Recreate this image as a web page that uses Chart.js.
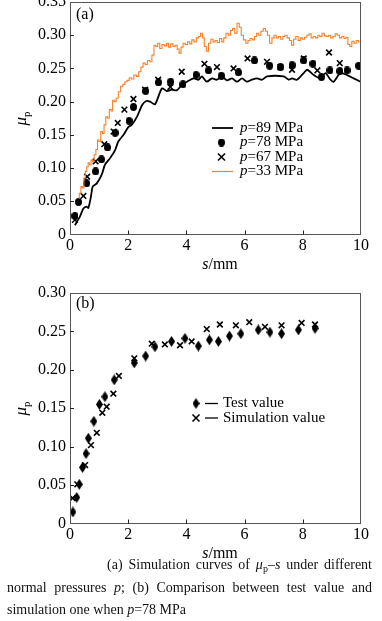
<!DOCTYPE html>
<html>
<head>
<meta charset="utf-8">
<script src="https://cdn.jsdelivr.net/npm/chart.js@4.4.1/dist/chart.umd.min.js"></script>
<style>
    body { margin: 0; background: #fff; width: 382px; height: 621px; position: relative; overflow: hidden; font-family: "Liberation Serif", "Times New Roman", serif; }
    canvas { position: absolute; left: 0; }
    #chartA { top: 0; }
    #chartB { top: 282px; }
    #caption { position: absolute; left: 7px; top: 554px; width: 365px; font-size: 14px; line-height: 22.5px; text-align: justify; text-indent: 100px; color: #111; }
    #caption sub { font-size: 10px; line-height: 0; vertical-align: -3px; }
</style>
</head>
<body>
<canvas id="chartA" width="382" height="275"></canvas>
<canvas id="chartB" width="382" height="278"></canvas>
<div id="caption">(a) Simulation curves of <i>μ</i><sub>p</sub>–<i>s</i> under different normal pressures <i>p</i>; (b) Comparison between test value and simulation one when <i>p</i>=78 MPa</div>
<script>
// (a) mu_p - s for several normal pressures
const s89 = [0.17, 0.34, 0.46, 0.57, 0.63, 0.72, 0.78, 0.92, 1.09, 1.20, 1.38, 1.55, 1.66, 1.84, 2.01, 2.12, 2.30, 2.48, 2.62, 2.75, 2.92, 3.16, 3.33, 3.50, 3.67, 3.84, 4.02, 4.25, 4.42, 4.53, 4.70, 4.88, 5.05, 5.22, 5.39, 5.57, 5.74, 5.91, 6.08, 6.25, 6.43, 6.60, 6.77, 7.34, 7.52, 7.63, 7.80, 8.03, 8.15, 8.38, 8.61, 8.78, 8.95, 9.06, 9.29, 9.52, 9.75, 9.98];
const mu89 = [0.014, 0.027, 0.039, 0.042, 0.040, 0.057, 0.072, 0.077, 0.090, 0.105, 0.115, 0.127, 0.140, 0.150, 0.162, 0.165, 0.177, 0.195, 0.201, 0.200, 0.196, 0.220, 0.216, 0.218, 0.217, 0.225, 0.230, 0.235, 0.233, 0.238, 0.230, 0.235, 0.233, 0.238, 0.232, 0.235, 0.230, 0.235, 0.230, 0.233, 0.235, 0.233, 0.238, 0.238, 0.233, 0.235, 0.233, 0.243, 0.248, 0.240, 0.235, 0.243, 0.233, 0.230, 0.243, 0.240, 0.235, 0.230];

const s78 = [0.17, 0.29, 0.57, 0.88, 1.08, 1.29, 1.55, 2.03, 2.18, 2.60, 3.04, 3.46, 3.88, 4.33, 4.76, 5.20, 5.79, 6.34, 6.86, 7.23, 7.63, 8.03, 8.35, 8.64, 8.93, 9.27, 9.52, 9.92];
const mu78 = [0.028, 0.049, 0.077, 0.095, 0.113, 0.131, 0.153, 0.171, 0.192, 0.216, 0.229, 0.230, 0.226, 0.240, 0.247, 0.239, 0.244, 0.262, 0.254, 0.252, 0.255, 0.262, 0.257, 0.237, 0.247, 0.246, 0.247, 0.254];

const s67 = [0.17, 0.46, 0.59, 0.88, 1.18, 1.50, 1.64, 1.87, 2.18, 2.58, 3.03, 3.45, 3.84, 4.62, 5.05, 5.62, 6.10, 6.77, 7.23, 7.63, 8.03, 8.50, 8.90, 9.27];
const mu67 = [0.022, 0.058, 0.087, 0.110, 0.136, 0.155, 0.168, 0.188, 0.204, 0.218, 0.233, 0.222, 0.245, 0.257, 0.252, 0.250, 0.265, 0.260, 0.252, 0.248, 0.265, 0.247, 0.274, 0.258];

const s33 = [0.29, 0.35, 0.40, 0.45, 0.50, 0.55, 0.60, 0.65, 0.70, 0.75,
    0.80, 0.86, 0.92, 0.97, 1.02, 1.09, 1.14, 1.20, 1.26, 1.32,
    1.38, 1.44, 1.49, 1.55, 1.62, 1.70, 1.78, 1.85, 1.92, 2.00,
    2.07, 2.15, 2.24, 2.32, 2.40, 2.47, 2.55, 2.62, 2.70, 2.78,
    2.85, 2.92, 2.98, 3.05, 3.12, 3.20, 3.28, 3.35, 3.42, 3.50,
    3.58, 3.65, 3.72, 3.78, 3.85, 3.92, 4.00, 4.08, 4.15, 4.22,
    4.30, 4.38, 4.45, 4.52, 4.58, 4.65, 4.72, 4.80, 4.88, 4.95,
    5.02, 5.10, 5.18, 5.25, 5.32, 5.40, 5.48, 5.55, 5.62, 5.70,
    5.78, 5.85, 5.92, 6.00, 6.08, 6.15, 6.22, 6.30, 6.38, 6.45,
    6.52, 6.60, 6.68, 6.75, 6.82, 6.90, 6.98, 7.05, 7.12, 7.20,
    7.28, 7.35, 7.42, 7.50, 7.58, 7.65, 7.72, 7.80, 7.88, 7.95,
    8.02, 8.10, 8.18, 8.25, 8.32, 8.40, 8.48, 8.55, 8.62, 8.70,
    8.78, 8.85, 8.92, 9.00, 9.08, 9.15, 9.22, 9.30, 9.38, 9.45,
    9.52, 9.58, 9.65, 9.72, 9.80, 9.88, 9.95];
const mu33 = [0.055, 0.062, 0.072, 0.070, 0.085, 0.095, 0.102, 0.108, 0.105, 0.112,
    0.110, 0.120, 0.128, 0.142, 0.140, 0.155, 0.152, 0.165, 0.177, 0.175,
    0.188, 0.186, 0.202, 0.200, 0.205, 0.215, 0.223, 0.226, 0.230, 0.232,
    0.236, 0.234, 0.240, 0.238, 0.245, 0.252, 0.258, 0.256, 0.262, 0.260,
    0.270, 0.285, 0.283, 0.288, 0.280, 0.286, 0.284, 0.288, 0.282, 0.287,
    0.283, 0.285, 0.279, 0.273, 0.282, 0.288, 0.286, 0.290, 0.287, 0.293,
    0.290, 0.296, 0.298, 0.303, 0.296, 0.283, 0.276, 0.288, 0.294, 0.290,
    0.292, 0.289, 0.295, 0.290, 0.296, 0.303, 0.300, 0.307, 0.310, 0.303,
    0.318, 0.312, 0.300, 0.293, 0.288, 0.292, 0.295, 0.293, 0.298, 0.303,
    0.300, 0.306, 0.310, 0.306, 0.300, 0.288, 0.296, 0.300, 0.296, 0.298,
    0.294, 0.298, 0.300, 0.296, 0.292, 0.285, 0.294, 0.298, 0.292, 0.296,
    0.294, 0.297, 0.300, 0.302, 0.296, 0.298, 0.296, 0.300, 0.298, 0.303,
    0.299, 0.298, 0.300, 0.296, 0.298, 0.302, 0.300, 0.296, 0.298, 0.295,
    0.297, 0.286, 0.283, 0.291, 0.288, 0.292, 0.290];

// (b) test vs simulation at p=78 MPa
const sTest = [0.10, 0.23, 0.32, 0.43, 0.55, 0.63, 0.82, 1.01, 1.20, 1.52, 2.21, 2.60, 2.92, 3.49, 3.95, 4.41, 4.79, 5.10, 5.48, 5.87, 6.47, 6.87, 7.27, 7.85, 8.42];
const muTest = [0.015, 0.034, 0.051, 0.073, 0.091, 0.111, 0.133, 0.155, 0.165, 0.187, 0.209, 0.218, 0.230, 0.237, 0.241, 0.231, 0.239, 0.237, 0.244, 0.247, 0.252, 0.249, 0.247, 0.252, 0.254];
const sSim = [0.09, 0.25, 0.52, 0.72, 0.92, 1.11, 1.26, 1.49, 1.68, 2.21, 2.81, 3.26, 3.78, 4.18, 4.70, 5.15, 5.70, 6.16, 6.70, 7.27, 7.96, 8.42];
const muSim = [0.033, 0.051, 0.076, 0.102, 0.118, 0.144, 0.152, 0.169, 0.192, 0.215, 0.234, 0.233, 0.232, 0.237, 0.253, 0.259, 0.258, 0.262, 0.256, 0.258, 0.261, 0.259];

const xTicks = [0, 2, 4, 6, 8, 10];
const legendA = ["89", "78", "67", "33"];
const legendB = ["Test value", "Simulation value"];

const SERIF = "'Liberation Serif', 'Times New Roman', serif";
const ORANGE = "#f5822a";

const pts = (xs, ys) => xs.map((x, i) => ({ x, y: ys[i] }));

function mark(w, h, draw) {
    const c = document.createElement("canvas");
    c.width = w;
    c.height = h;
    const g = c.getContext("2d");
    g.fillStyle = "#000";
    g.beginPath();
    draw(g, w, h);
    g.fill();
    return c;
}

const dot = mark(7, 8, (g, w, h) => g.ellipse(w / 2, h / 2, w / 2, h / 2, 0, 0, Math.PI * 2));
const diamond = mark(7, 11, (g, w, h) => {
    g.moveTo(w / 2, 0);
    g.lineTo(w, h / 2);
    g.lineTo(w / 2, h);
    g.lineTo(0, h / 2);
    g.closePath();
});

function cross(ctx, x, y, r) {
    ctx.beginPath();
    ctx.moveTo(x - r, y - r);
    ctx.lineTo(x + r, y + r);
    ctx.moveTo(x + r, y - r);
    ctx.lineTo(x - r, y + r);
    ctx.stroke();
}

// text with italic / roman runs
function runs(ctx, parts, x, y, size) {
    let cx = x;
    parts.forEach(([t, it]) => {
        ctx.font = (it ? "italic " : "") + size + "px " + SERIF;
        ctx.fillText(t, cx, y);
        cx += ctx.measureText(t).width;
    });
}

function runsWidth(ctx, parts, size) {
    return parts.reduce((w, [t, it]) => {
        ctx.font = (it ? "italic " : "") + size + "px " + SERIF;
        return w + ctx.measureText(t).width;
    }, 0);
}

const frame = {
    id: "frame",
    afterDraw(chart, args, o) {
        const { ctx, chartArea: a, scales: { x, y } } = chart;
        ctx.save();
        ctx.strokeStyle = "#555";
        ctx.lineWidth = 1;
        ctx.strokeRect(Math.round(a.left) + 0.5, Math.round(a.top) + 0.5, Math.round(a.right - a.left) - 1, Math.round(a.bottom - a.top) - 1);
        ctx.strokeStyle = "#222";
        ctx.beginPath();
        x.ticks.forEach(t => {
            if (t.value <= x.min || t.value >= x.max) return;
            const px = Math.round(x.getPixelForValue(t.value)) + 0.5;
            ctx.moveTo(px, a.bottom);
            ctx.lineTo(px, a.bottom - 4);
        });
        y.ticks.forEach(t => {
            if (t.value <= y.min || t.value >= y.max) return;
            const py = Math.round(y.getPixelForValue(t.value)) + 0.5;
            ctx.moveTo(a.left, py);
            ctx.lineTo(a.left + 4, py);
        });
        ctx.stroke();

        ctx.fillStyle = "#000";
        ctx.textBaseline = "middle";
        // panel tag
        ctx.font = "16px " + SERIF;
        ctx.fillText(o.tag, a.left + 6, o.tagY);
        // x title
        const xt = [["s", true], ["/mm", false]];
        runs(ctx, xt, 220 - runsWidth(ctx, xt, 16) / 2, o.xTitleY, 16);
        // y title, rotated
        ctx.translate(22, (a.top + a.bottom) / 2);
        ctx.rotate(-Math.PI / 2);
        ctx.font = "italic 17px " + SERIF;
        const mw = ctx.measureText("μ").width;
        ctx.fillText("μ", -mw / 2 - 3, 0);
        ctx.font = "11px " + SERIF;
        ctx.fillText("p", mw / 2 - 3, 5);
        ctx.restore();
        o.legend(ctx);
    }
};

function scales(max, xh) {
    return {
        x: {
            type: "linear",
            min: 0,
            max: 10,
            afterBuildTicks: s => { s.ticks = xTicks.map(v => ({ value: v })); },
            afterFit: s => {
                s.height = xh;
                s.paddingLeft = 0;
                s.paddingRight = 0;
            },
            grid: { display: false, drawTicks: false },
            border: { display: false },
            ticks: { color: "#000", padding: 2, maxRotation: 0, font: { family: SERIF, size: 16 } }
        },
        y: {
            min: 0,
            max: max,
            afterFit: s => {
                s.width = 70;
                s.paddingTop = 0;
                s.paddingBottom = 0;
            },
            grid: { display: false, drawTicks: false },
            border: { display: false },
            ticks: {
                stepSize: 0.05,
                color: "#000",
                padding: 4,
                font: { family: SERIF, size: 16 },
                callback: v => v === 0 ? "0" : v.toFixed(2)
            }
        }
    };
}

new Chart(document.getElementById("chartA"), {
    type: "scatter",
    data: {
        datasets: [{
            label: "p=33 MPa",
            data: pts(s33, mu33),
            showLine: true,
            stepped: "middle",
            borderColor: ORANGE,
            borderWidth: 1.1,
            pointRadius: 0
        }, {
            label: "p=89 MPa",
            data: pts(s89, mu89),
            showLine: true,
            borderColor: "#000",
            borderWidth: 1.8,
            pointRadius: 0,
            tension: 0.25
        }, {
            label: "p=78 MPa",
            data: pts(s78, mu78),
            pointStyle: dot,
            pointRadius: 4
        }, {
            label: "p=67 MPa",
            data: pts(s67, mu67),
            pointStyle: "crossRot",
            pointRadius: 4,
            borderColor: "#000",
            borderWidth: 1.6
        }]
    },
    options: {
        responsive: false,
        animation: false,
        events: [],
        layout: { autoPadding: false, padding: { top: 2, right: 21, left: 0, bottom: 0 } },
        scales: scales(0.35, 40.5),
        plugins: {
            legend: { display: false },
            tooltip: { enabled: false },
            frame: {
                tag: "(a)",
                tagY: 15,
                xTitleY: 265,
                legend: ctx => {
                    const rows = [128, 142.5, 157, 171.5];
                    ctx.save();
                    ctx.textBaseline = "middle";
                    ctx.fillStyle = "#000";
                    rows.forEach((ry, i) => {
                        if (i === 0 || i === 3) {
                            ctx.strokeStyle = i === 0 ? "#000" : ORANGE;
                            ctx.lineWidth = i === 0 ? 1.8 : 1.2;
                            ctx.beginPath();
                            ctx.moveTo(212, ry);
                            ctx.lineTo(233, ry);
                            ctx.stroke();
                        } else if (i === 1) {
                            ctx.drawImage(dot, 218, ry - 4);
                        } else {
                            ctx.strokeStyle = "#000";
                            ctx.lineWidth = 1.6;
                            cross(ctx, 221.5, ry, 3.5);
                        }
                        runs(ctx, [["p", true], ["=" + legendA[i] + " MPa", false]], 240, ry, 15);
                    });
                    ctx.restore();
                }
            }
        }
    },
    plugins: [frame]
});

new Chart(document.getElementById("chartB"), {
    type: "scatter",
    data: {
        datasets: [{
            label: legendB[0],
            data: pts(sTest, muTest),
            pointStyle: diamond,
            pointRadius: 5
        }, {
            label: legendB[1],
            data: pts(sSim, muSim),
            pointStyle: "crossRot",
            pointRadius: 4,
            borderColor: "#000",
            borderWidth: 1.6
        }]
    },
    options: {
        responsive: false,
        animation: false,
        events: [],
        layout: { autoPadding: false, padding: { top: 11, right: 21, left: 0, bottom: 0 } },
        scales: scales(0.30, 36.5),
        plugins: {
            legend: { display: false },
            tooltip: { enabled: false },
            frame: {
                tag: "(b)",
                tagY: 22,
                xTitleY: 272,
                legend: ctx => {
                    const rows = [121.5, 136];
                    ctx.save();
                    ctx.textBaseline = "middle";
                    ctx.fillStyle = "#000";
                    ctx.strokeStyle = "#000";
                    rows.forEach((ry, i) => {
                        if (i === 0) {
                            ctx.drawImage(diamond, 192.5, ry - 5.5);
                        } else {
                            ctx.lineWidth = 1.6;
                            cross(ctx, 196, ry, 3.5);
                        }
                        ctx.lineWidth = 1.3;
                        ctx.beginPath();
                        ctx.moveTo(205, ry);
                        ctx.lineTo(218, ry);
                        ctx.stroke();
                        runs(ctx, [[legendB[i], false]], 223, ry, 15);
                    });
                    ctx.restore();
                }
            }
        }
    },
    plugins: [frame]
});
</script>
</body>
</html>
